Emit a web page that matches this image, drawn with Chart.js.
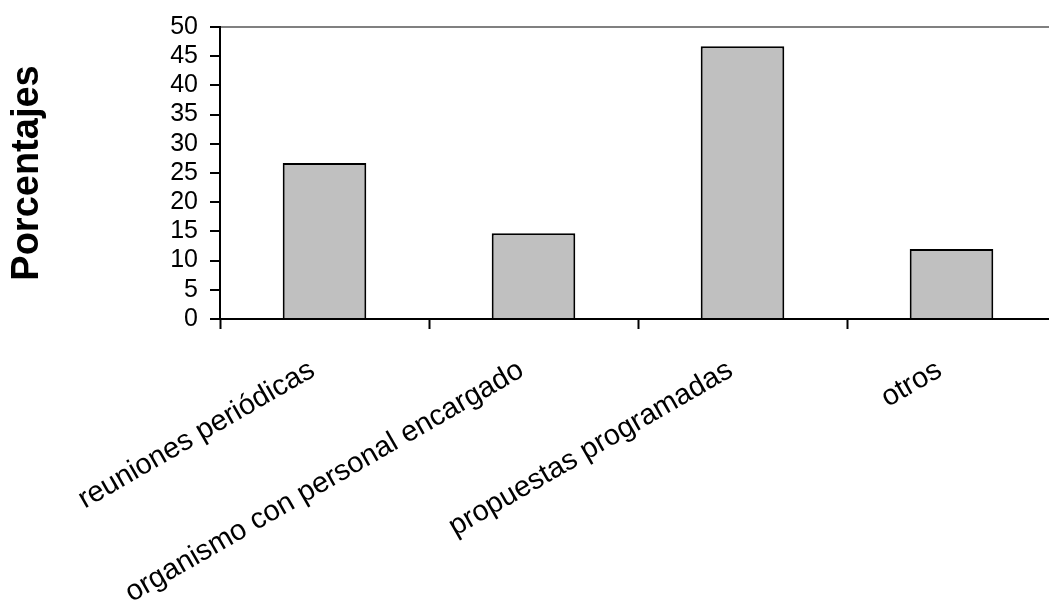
<!DOCTYPE html>
<html>
<head>
<meta charset="utf-8">
<script src="https://cdn.jsdelivr.net/npm/chart.js@4.4.1/dist/chart.umd.min.js"></script>
<style>
html, body { margin: 0; padding: 0; background: #fff; overflow: hidden; }
#wrap { width: 1056px; height: 603px; position: relative; }
</style>
</head>
<body>
<div id="wrap"><canvas id="c"></canvas></div>
<script>
const categories = ["reuniones periódicas", "organismo con personal encargado", "propuestas programadas", "otros"];
const values = [26.7, 14.7, 46.7, 12.0];
const yTicks = [0, 5, 10, 15, 20, 25, 30, 35, 40, 45, 50];
const yTitle = "Porcentajes";

const FONT = "'Liberation Sans', Arial, sans-serif";

new Chart(document.getElementById('c'), {
  type: 'bar',
  data: {
    labels: categories,
    datasets: [{
      data: values,
      backgroundColor: '#C0C0C0',
      borderColor: '#000000',
      borderWidth: 2,
      barPercentage: 0.4,
      categoryPercentage: 1.0
    }]
  },
  options: {
    responsive: true,
    maintainAspectRatio: false,
    animation: false,
    devicePixelRatio: 1,
    layout: { padding: { top: 24, right: 0, left: 0, bottom: 0 } },
    plugins: { legend: { display: false }, tooltip: { enabled: false } },
    scales: {
      x: {
        grid: {
          offset: true,
          drawOnChartArea: false,
          drawTicks: true,
          tickLength: 10,
          tickColor: '#000',
          tickWidth: 2
        },
        border: { display: true, color: '#000', width: 2 },
        ticks: {
          color: '#000',
          font: { family: FONT, size: 29 },
          maxRotation: 30,
          minRotation: 30,
          padding: 24,
          labelOffset: -12,
          autoSkip: false
        },
        afterFit: (s) => { s.height = 603 - 319; }
      },
      y: {
        min: 0,
        max: 50,
        afterBuildTicks: (s) => { s.ticks = yTicks.map(v => ({ value: v })); },
        grid: {
          drawTicks: true,
          tickLength: 10,
          tickColor: '#000',
          tickWidth: 2,
          lineWidth: 2,
          color: (ctx) => (ctx.tick && ctx.tick.value === 50) ? '#808080' : 'rgba(0,0,0,0)'
        },
        border: { display: true, color: '#000', width: 2 },
        ticks: {
          color: '#000',
          font: { family: FONT, size: 25 },
          padding: 12,
          autoSkip: false
        },
        title: {
          display: true,
          text: yTitle,
          color: '#000',
          font: { family: FONT, size: 38, weight: 'bold' },
          padding: { top: 5, bottom: 0 }
        },
        afterFit: (s) => { s.width = 220; }
      }
    }
  }
});
</script>
</body>
</html>
